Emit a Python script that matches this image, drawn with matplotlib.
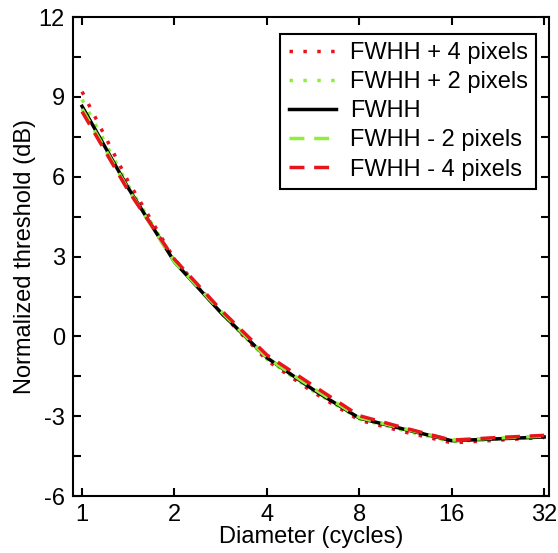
import numpy as np
import matplotlib.pyplot as plt
from matplotlib.ticker import FixedLocator, MultipleLocator

plt.rcParams['font.family'] = ['Liberation Sans', 'DejaVu Sans']
plt.rcParams['axes.unicode_minus'] = False

# diameters (cycles), half-octave steps
diam = [1, 1.41, 2, 2.83, 4, 5.66, 8, 11.3, 16, 22.6, 32]

fwhh_p4 = [9.2, 5.85, 2.9, 0.9, -0.9, -2.1, -3.15, -3.6, -4.0, -3.9, -3.8]
fwhh_p2 = [8.9, 5.7, 2.85, 0.9, -0.85, -2.05, -3.1, -3.55, -3.95, -3.85, -3.78]
fwhh = [8.65, 5.6, 2.8, 0.9, -0.8, -2.0, -3.07, -3.5, -3.92, -3.85, -3.78]
fwhh_m2 = [8.55, 5.55, 2.8, 0.95, -0.8, -1.95, -3.05, -3.48, -3.9, -3.82, -3.75]
fwhh_m4 = [8.45, 5.5, 2.9, 1.0, -0.7, -1.85, -2.98, -3.45, -3.9, -3.8, -3.72]

labels = ['FWHH + 4 pixels', 'FWHH + 2 pixels', 'FWHH',
          'FWHH - 2 pixels', 'FWHH - 4 pixels']

red = '#e8141c'
green = '#8ef03c'

fig = plt.figure(figsize=(5.58, 5.53), dpi=100)
ax = fig.add_axes([0.131, 0.103, 0.853, 0.866])

ax.plot(diam, fwhh_p4, color=red, lw=2.5, linestyle=(0, (1, 3)), label=labels[0])
ax.plot(diam, fwhh_p2, color=green, lw=2.5, linestyle=(0, (1, 3)), label=labels[1])
ax.plot(diam, fwhh, color='black', lw=2.5, label=labels[2])
ax.plot(diam, fwhh_m2, color=green, lw=2.5, linestyle=(0, (4.3, 2.8)), label=labels[3])
ax.plot(diam, fwhh_m4, color=red, lw=2.5, linestyle=(0, (4.3, 2.8)), label=labels[4])

ax.set_xscale('log', base=2)
ax.set_xlim(0.935, 33.2)
ax.set_ylim(-6, 12)
xt = [1, 2, 4, 8, 16, 32]
ax.xaxis.set_major_locator(FixedLocator(xt))
ax.xaxis.set_minor_locator(FixedLocator([]))
ax.set_xticklabels([str(v) for v in xt])
ax.yaxis.set_major_locator(MultipleLocator(3))
ax.yaxis.set_minor_locator(MultipleLocator(1.5))

ax.tick_params(which='both', direction='in', top=True, right=True,
               width=1.5, length=6, labelsize=17, pad=6)
for s in ax.spines.values():
    s.set_linewidth(1.5)

ax.set_xlabel('Diameter (cycles)', fontsize=17, labelpad=0)
ax.set_ylabel('Normalized threshold (dB)', fontsize=17, labelpad=2)

leg = ax.legend(loc='upper right', fontsize=17, fancybox=False,
                edgecolor='black', framealpha=1, handlelength=2.0,
                handletextpad=0.6, labelspacing=0.3, borderpad=0.35,
                borderaxespad=0, bbox_to_anchor=(0.973, 0.965))
leg.get_frame().set_linewidth(1.5)

fig.savefig('out.png', dpi=100)
